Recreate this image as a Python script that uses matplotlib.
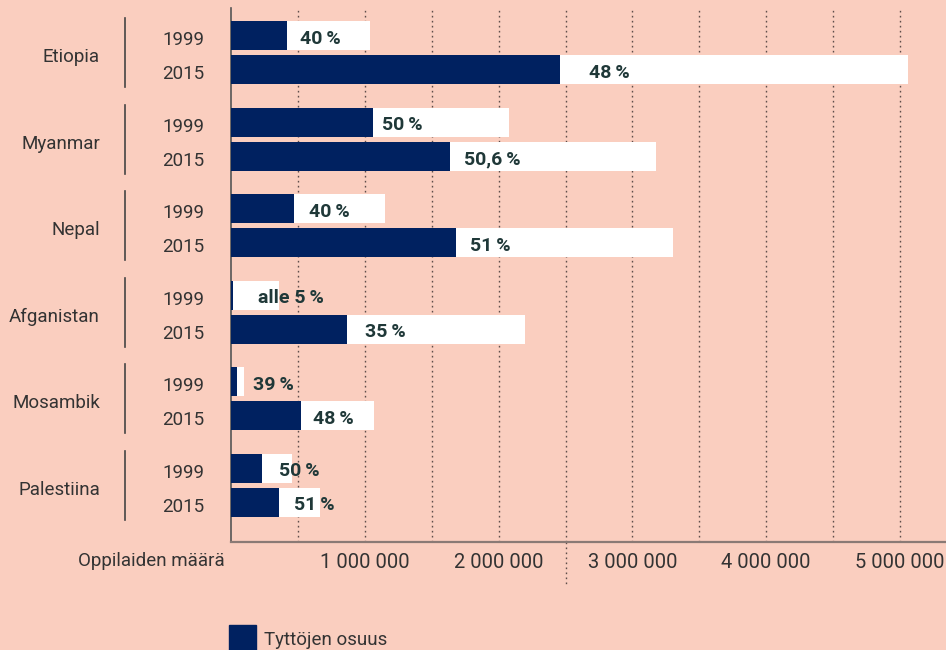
import matplotlib
matplotlib.use("Agg")
import matplotlib.pyplot as plt
from matplotlib.patches import Rectangle
from matplotlib.lines import Line2D
import matplotlib.transforms as mtransforms

# ---------------- data ----------------
countries = ["Etiopia", "Myanmar", "Nepal", "Afganistan", "Mosambik", "Palestiina"]
years = ["1999", "2015"]
# total pupils (millions) per country: [1999, 2015]
total_1999 = [1.039, 2.078, 1.151, 0.359, 0.095, 0.456]
total_2015 = [5.060, 3.174, 3.303, 2.197, 1.066, 0.665]
# girls (millions)
girls_1999 = [0.416, 1.059, 0.471, 0.013, 0.042, 0.232]
girls_2015 = [2.459, 1.637, 1.682, 0.867, 0.523, 0.359]
share_1999 = ["40 %", "50 %", "40 %", "alle 5 %", "39 %", "50 %"]
share_2015 = ["48 %", "50,6 %", "51 %", "35 %", "48 %", "51 %"]
tick_values = [1, 2, 3, 4, 5]
tick_labels = ["1 000 000", "2 000 000", "3 000 000", "4 000 000", "5 000 000"]
grid_values = [0.5, 1, 1.5, 2, 2.5, 3, 3.5, 4, 4.5, 5]
x_label = "Oppilaiden määrä"
legend_label = "Tyttöjen osuus"

# label offsets (pixels) after the girls' bar end
offs_1999 = [13, 9.5, 15, 25, 16, 17]
offs_2015 = [29, 14, 14, 18, 12, 15]

# ---------------- style ----------------
BG = "#FACEBF"
NAVY = "#002160"
PCT = "#1F3838"
TXT = "#333333"
GRID = "#5E4E4A"
FONT = "Roboto"

W, H = 946, 650
fig = plt.figure(figsize=(W / 100, H / 100), dpi=100, facecolor=BG)
ax = fig.add_axes([231 / W, 1 - 542 / H, 1 - 231 / W, (542 - 8) / H])
ax.set_facecolor(BG)

d = 34 / 86.56
bh = 29 / 86.56
ax.set_xlim(0, (W - 231) / 133.8)
ax.set_ylim(5 + d + 39.7 / 86.56, -27.5 / 86.56)

for g in grid_values:
    ax.axvline(g, color=GRID, lw=1.0, ls=(0, (1.2, 2.4)), zorder=0)
# extension of the 2.5M gridline below the axis
ylo = ax.get_ylim()[0]
ax.plot([2.5, 2.5], [ylo, ylo + 43 / 86.56], color=GRID, lw=1.0,
        ls=(0, (1.2, 2.4)), clip_on=False, zorder=0)

ys99 = [i for i in range(len(countries))]
ys15 = [i + d for i in range(len(countries))]

ax.barh(ys99, total_1999, height=bh, color="white", zorder=2)
ax.barh(ys15, total_2015, height=bh, color="white", zorder=2)
ax.barh(ys99, girls_1999, height=bh, color=NAVY, zorder=3)
ax.barh(ys15, girls_2015, height=bh, color=NAVY, zorder=3)

for ys, gv, lab, off in [(ys99, girls_1999, share_1999, offs_1999),
                         (ys15, girls_2015, share_2015, offs_2015)]:
    for y, g, t, o in zip(ys, gv, lab, off):
        ax.annotate(t.replace(" %", "\u2009%"), xy=(g, y), xytext=(o * 0.72, -8 * 0.72),
                    textcoords="offset points",
                    ha="left", va="baseline", fontsize=14, fontweight="bold",
                    color=PCT, family=[FONT, "DejaVu Sans"], zorder=4)

for s in ["top", "right"]:
    ax.spines[s].set_visible(False)
ax.spines["left"].set_color("#555555")
ax.spines["left"].set_linewidth(1.2)
ax.spines["bottom"].set_color("#8A7A75")
ax.spines["bottom"].set_linewidth(1.6)

ax.set_yticks([])
ax.set_xticks(tick_values)
ax.set_xticklabels(tick_labels, family=FONT, fontsize=14.5, color=TXT)
ax.tick_params(axis="x", length=0, pad=8)

base = mtransforms.blended_transform_factory(fig.transFigure, ax.transData)
tr = base + mtransforms.ScaledTranslation(0, -9.5 / 100, fig.dpi_scale_trans)
for i, c in enumerate(countries):
    yc = i + d / 2
    ax.text(100 / W, yc, c, transform=tr, ha="right", va="baseline",
            fontsize=13.5, color=TXT, family=FONT)
    ax.add_line(Line2D([124.5 / W, 124.5 / W], [yc - 34.5 / 86.56, yc + 34.5 / 86.56],
                       transform=base, color="#444444", lw=1.2, clip_on=False))
    ax.text(204 / W, ys99[i], years[0], transform=tr, ha="right", va="baseline",
            fontsize=13.5, color=TXT, family=FONT)
    ax.text(204 / W, ys15[i], years[1], transform=tr, ha="right", va="baseline",
            fontsize=13.5, color=TXT, family=FONT)

fig.text(225 / W, 1 - 566.5 / H, x_label, ha="right", va="baseline",
         fontsize=13.5, color=TXT, family=FONT)

fig.patches.append(Rectangle((229 / W, 0), 27 / W, 25 / H, transform=fig.transFigure,
                             color=NAVY, figure=fig))
fig.text(264 / W, 1 - 645 / H, legend_label, ha="left", va="baseline",
         fontsize=13.5, color=TXT, family=FONT)

fig.savefig("out.png", dpi=100, facecolor=BG)
